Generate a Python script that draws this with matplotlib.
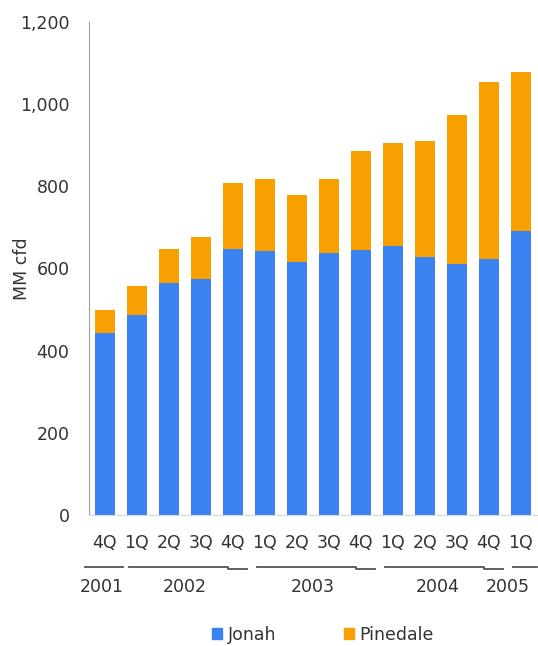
import matplotlib.pyplot as plt
import numpy as np
from matplotlib.patches import Patch
import matplotlib.transforms as mtransforms

# quarterly production, MMcfd
quarters = ['4Q', '1Q', '2Q', '3Q', '4Q', '1Q', '2Q', '3Q', '4Q', '1Q', '2Q', '3Q', '4Q', '1Q']
jonah = [443, 487, 565, 574, 647, 643, 616, 637, 645, 655, 628, 611, 622, 691]
total = [500, 557, 647, 676, 808, 818, 779, 818, 886, 905, 910, 973, 1054, 1078]
pinedale = [t - j for t, j in zip(total, jonah)]

years = ['2001', '2002', '2003', '2004', '2005']
year_first = [0, 1, 5, 9, 13]   # first bar of each year
year_last = [0, 4, 8, 12, 13]   # last bar of each year
year_label_x = [-0.1, 2.5, 6.5, 10.4, 12.6]

blue = '#3a82f0'
orange = '#f8a000'
fs = 12.5

fig = plt.figure(figsize=(5.38, 6.46), dpi=100)
ax = fig.add_axes([0.1654, 0.2028, 0.8327, 0.7632])

x = np.arange(len(quarters))
ax.bar(x, jonah, width=0.63, color=blue, zorder=2)
ax.bar(x, pinedale, bottom=jonah, width=0.63, color=orange, zorder=2)

ax.set_xlim(-0.5, 13.5)
ax.set_ylim(0, 1200)
ax.set_yticks(np.arange(0, 1201, 200))
ax.set_yticklabels(['{:,}'.format(v) for v in range(0, 1201, 200)], fontsize=fs, color='#333333')
ax.tick_params(axis='y', length=0, pad=14)
ax.set_xticks([])

for s in ['top', 'right']:
    ax.spines[s].set_visible(False)
ax.spines['left'].set_color('#a0a0a0')
ax.spines['bottom'].set_color('#d8d8d8')
ax.spines['bottom'].set_linewidth(0.8)

ax.set_ylabel('MM cfd', fontsize=fs, color='#333333')
ax.yaxis.set_label_coords(-0.13, 0.5)

trans = mtransforms.blended_transform_factory(ax.transData, ax.transAxes)

# quarter labels
for i, q in enumerate(quarters):
    ax.text(i, -0.057, q, transform=trans, ha='center', va='center',
            fontsize=fs, color='#333333')

# year brackets under the quarter labels
for k, yr in enumerate(years):
    a, b = year_first[k], year_last[k]
    if a == 0:
        start = a - 0.62
    else:
        start = a - 0.25
    if a == b:
        end = b + 0.5 if b == len(quarters) - 1 else b + 0.56
        ax.plot([start, end], [-0.105, -0.105], transform=trans, color='#555555',
                lw=1.3, clip_on=False)
    else:
        ax.plot([start, b - 0.15, b - 0.15, b + 0.45], [-0.105, -0.105, -0.109, -0.109],
                transform=trans, color='#555555', lw=1.3, clip_on=False)
    ax.text(year_label_x[k], -0.146, yr, transform=trans, ha='center', va='center',
            fontsize=fs, color='#333333')

handles = [Patch(color=blue, label='Jonah'), Patch(color=orange, label='Pinedale')]
fig.legend(handles=handles, loc='center', bbox_to_anchor=(0.6, 1 - 635 / 646),
           ncol=2, frameon=False, fontsize=fs, handlelength=0.6, handleheight=0.6,
           handletextpad=0.3, columnspacing=3.9, labelcolor='#333333')

fig.savefig('out.png', dpi=100)
